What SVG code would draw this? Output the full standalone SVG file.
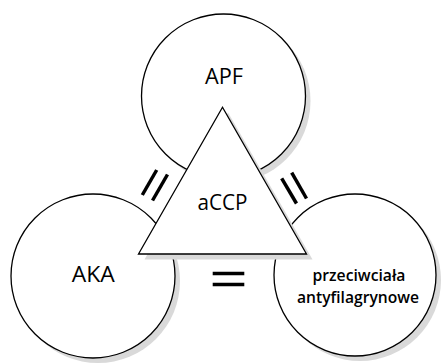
<svg xmlns="http://www.w3.org/2000/svg" width="441" height="363" viewBox="0 0 441 363">
<style>
.shadow{fill:#d9d9d9;stroke:none}
.node{fill:#fff;stroke:#000;stroke-width:1.3}
.lbl{font-family:"Open Sans","Noto Sans",sans-serif;fill:#000;text-anchor:middle}
.big{font-size:22.5px;font-weight:400}
.small{font-size:17px;font-weight:600}
.mark{stroke:#000;stroke-width:3.5;stroke-linecap:butt}
</style>
<rect width="441" height="363" fill="#fff"/>
<g id="node-apf">
<circle class="shadow" cx="228.5" cy="101" r="82"/>
<circle class="node" cx="223.5" cy="96" r="82"/>
<text class="lbl big" x="224" y="83.5" textLength="38" lengthAdjust="spacingAndGlyphs">APF</text>
</g>
<g id="node-aka">
<circle class="shadow" cx="98" cy="281" r="82"/>
<circle class="node" cx="93" cy="276" r="82"/>
<text class="lbl big" x="93.3" y="282.3" textLength="43" lengthAdjust="spacingAndGlyphs">AKA</text>
</g>
<g id="node-przeciwciala">
<circle class="shadow" cx="360" cy="280" r="81"/>
<circle class="node" cx="355" cy="275" r="81"/>
<text class="lbl small" x="359" y="280.5" textLength="93" lengthAdjust="spacingAndGlyphs">przeciwciała</text>
<text class="lbl small" x="358" y="303.3" textLength="122" lengthAdjust="spacingAndGlyphs">antyfilagrynowe</text>
</g>
<g id="node-accp">
<polygon class="shadow" points="228,112.5 144.5,259.5 312.5,259.5"/>
<polygon class="node" points="222.5,107.3 138.5,254 306.5,254"/>
<text class="lbl big" x="222.5" y="209.5" textLength="50" lengthAdjust="spacingAndGlyphs">aCCP</text>
</g>
<g id="connectors">
<line class="mark" x1="156.7" y1="170" x2="142.3" y2="195"/>
<line class="mark" x1="167.5" y1="174.5" x2="152.5" y2="200.5"/>
<line class="mark" x1="281.7" y1="178.3" x2="296.5" y2="203.5"/>
<line class="mark" x1="291.7" y1="172.7" x2="306.5" y2="198.5"/>
<line class="mark" x1="212.7" y1="273.5" x2="244.3" y2="273.5"/>
<line class="mark" x1="212.7" y1="284.5" x2="244.3" y2="284.5"/>
</g>
</svg>
